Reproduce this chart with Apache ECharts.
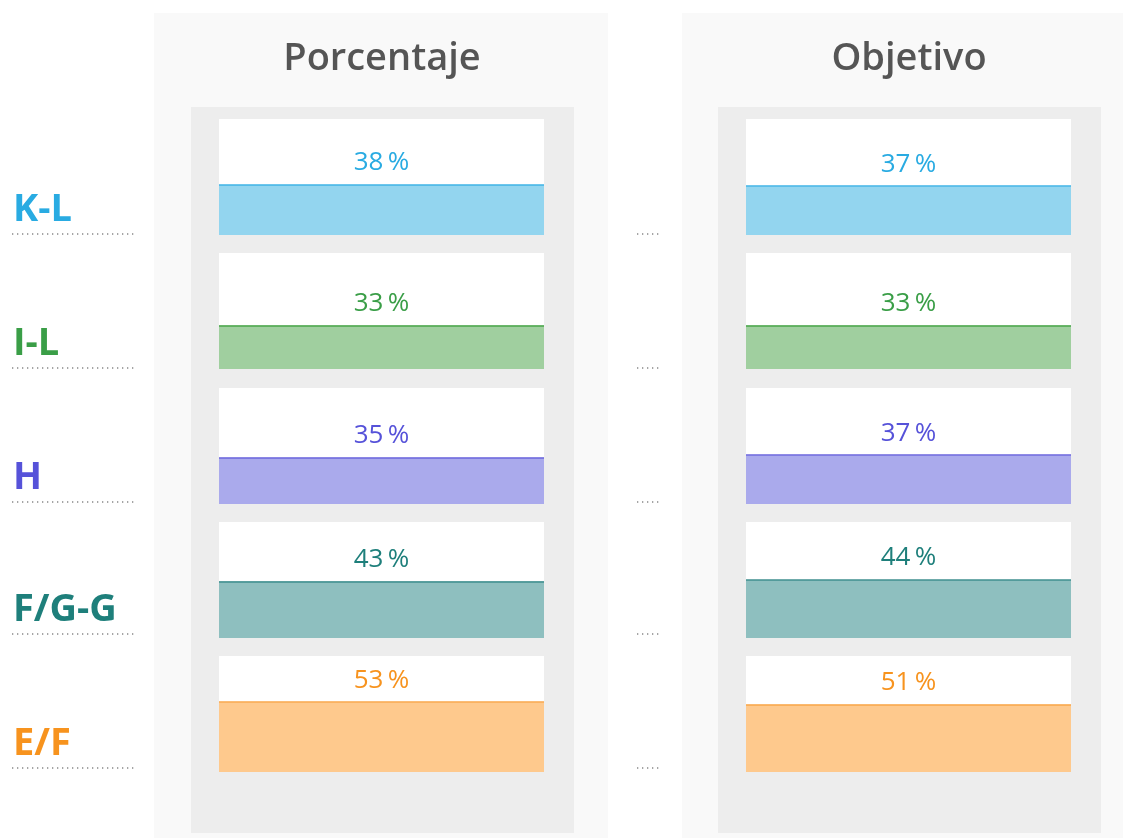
<!DOCTYPE html>
<html>
<head>
<meta charset="utf-8">
<script src="https://cdn.jsdelivr.net/npm/echarts@6/dist/echarts.min.js"></script>
<style>html,body{margin:0;padding:0;background:#fff}#c{width:1123px;height:838px}</style>
</head>
<body>
<div id="c"></div>
<script>
const categories = ['K-L', 'I-L', 'H', 'F/G-G', 'E/F'];
const porcentaje = [38, 33, 35, 43, 53];
const objetivo = [37, 33, 37, 44, 51];
const panelTitles = ['Porcentaje', 'Objetivo'];
const textColors = ['#29abe2', '#3a9e47', '#5652d9', '#1e7f7b', '#f7931e'];
const fillColors = ['#93d5ef', '#a0cf9f', '#aaaaec', '#8ebfbf', '#fec98d'];
const lineColors = ['#3fb3e6', '#4aa64a', '#6a64dd', '#3f8f8f', '#f9a64a'];

const panels = [porcentaje, objetivo];
const panelBoxLeft = [219, 746];
const boxWidth = 325;
const rowTops = [119, 253, 388, 522, 656];
const boxHeight = 116;
const scaleMax = 88;

const grids = [], xAxes = [], yAxes = [], series = [];
panels.forEach(function (vals, p) {
  vals.forEach(function (v, r) {
    const idx = grids.length;
    grids.push({ left: panelBoxLeft[p], top: rowTops[r], width: boxWidth, height: boxHeight, containLabel: false });
    xAxes.push({ type: 'category', gridIndex: idx, data: [categories[r]], show: false });
    yAxes.push({ type: 'value', gridIndex: idx, min: 0, max: scaleMax, show: false });
    series.push({
      type: 'bar', xAxisIndex: idx, yAxisIndex: idx, data: [v],
      barWidth: '100%', showBackground: true,
      backgroundStyle: { color: '#ffffff' },
      itemStyle: { color: fillColors[r] },
      label: {
        show: true, position: 'top', distance: 9,
        formatter: function (d) { return d.value + '\u2009%'; },
        color: textColors[r], fontSize: 26, fontFamily: 'Open Sans', fontWeight: 500
      },
      markLine: {
        silent: true, symbol: 'none', label: { show: false },
        lineStyle: { color: lineColors[r], width: 1.5, type: 'solid' },
        data: [{ yAxis: v }]
      },
      animation: false
    });
  });
});

const graphic = [
  { type: 'rect', shape: { x: 154, y: 13, width: 454, height: 830 }, style: { fill: '#f9f9f9' }, z: -20 },
  { type: 'rect', shape: { x: 682, y: 13, width: 450, height: 830 }, style: { fill: '#f9f9f9' }, z: -20 },
  { type: 'rect', shape: { x: 191, y: 107, width: 383, height: 726 }, style: { fill: '#ededed' }, z: -19 },
  { type: 'rect', shape: { x: 718, y: 107, width: 383, height: 726 }, style: { fill: '#ededed' }, z: -19 },
  { type: 'text', x: 382, y: 59, style: { text: panelTitles[0], fill: '#555555', font: '600 38px "Open Sans"', align: 'center', verticalAlign: 'middle' } },
  { type: 'text', x: 909, y: 59, style: { text: panelTitles[1], fill: '#555555', font: '600 38px "Open Sans"', align: 'center', verticalAlign: 'middle' } }
];
const dotYs = [234, 368, 502, 634, 768];
categories.forEach(function (c, r) {
  graphic.push({ type: 'text', x: 13, y: dotYs[r] - 24, style: { text: c, fill: textColors[r], font: 'bold 38px "Open Sans"', align: 'left', verticalAlign: 'middle' } });
  graphic.push({ type: 'line', shape: { x1: 12, y1: dotYs[r], x2: 136, y2: dotYs[r] }, style: { stroke: '#888', lineWidth: 1.3, lineDash: [1.3, 3.7] } });
  graphic.push({ type: 'line', shape: { x1: 637, y1: dotYs[r], x2: 661, y2: dotYs[r] }, style: { stroke: '#888', lineWidth: 1.3, lineDash: [1.3, 3.7] } });
});

const chart = echarts.init(document.getElementById('c'), null, { renderer: 'canvas' });
chart.setOption({
  backgroundColor: '#ffffff',
  animation: false,
  grid: grids, xAxis: xAxes, yAxis: yAxes, series: series,
  graphic: graphic
});
</script>
</body>
</html>
